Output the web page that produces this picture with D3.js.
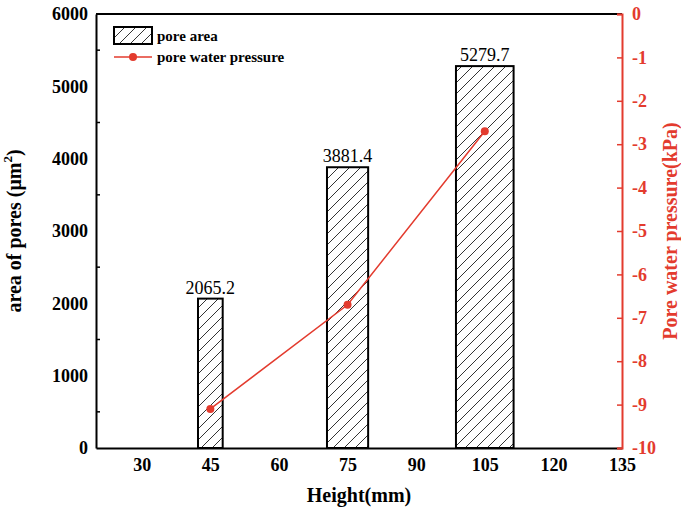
<!DOCTYPE html>
<html>
<head>
<meta charset="utf-8">
<script src="https://cdn.jsdelivr.net/npm/d3@7"></script>
<style>
  body { margin: 0; background: #fff; }
  svg { display: block; font-family: 'Liberation Serif', 'Times New Roman', serif; }
</style>
</head>
<body>
<div id="chart"></div>
<script>
// data
const heights = [45, 75, 105]
const poreArea = [2065.2, 3881.4, 5279.7]
const barWidths = [5.4, 9, 12.6] // bar widths in mm, as drawn
const porePressure = [-9.1, -6.7, -2.7]
const xTicks = [30, 45, 60, 75, 90, 105, 120, 135]
const yLeftTicks = [0, 1000, 2000, 3000, 4000, 5000, 6000]
const yRightTicks = [0, -1, -2, -3, -4, -5, -6, -7, -8, -9, -10]

const width = 681
const height = 510
const margin = { top: 14, right: 59, bottom: 62, left: 96 }
const red = '#e33b2e'
const serif = "'Liberation Serif', 'Times New Roman', serif"

const svg = d3.select('#chart').append('svg')
    .attr('width', width)
    .attr('height', height)

// scales
const x = d3.scaleLinear().domain([20, 135]).range([margin.left, width - margin.right])
const y = d3.scaleLinear().domain([0, 6000]).range([height - margin.bottom, margin.top])
const y2 = d3.scaleLinear().domain([-10, 0]).range([height - margin.bottom, margin.top])

// hatch pattern
const defs = svg.append('defs')
const pattern = defs.append('pattern')
    .attr('id', 'hatch')
    .attr('patternUnits', 'userSpaceOnUse')
    .attr('width', 11)
    .attr('height', 11)
pattern.append('rect').attr('width', 11).attr('height', 11).attr('fill', '#fff')
pattern.append('path')
    .attr('d', 'M0,11 L11,0 M-2,2 L2,-2 M9,13 L13,9')
    .attr('stroke', '#000')
    .attr('stroke-width', 0.8)

// bars
const bars = heights.map((h, i) => ({ h, v: poreArea[i], w: barWidths[i] }))
svg.append('g').selectAll('rect')
    .data(bars)
    .join('rect')
    .attr('x', (d) => x(d.h - d.w / 2))
    .attr('y', (d) => y(d.v))
    .attr('width', (d) => x(d.h + d.w / 2) - x(d.h - d.w / 2))
    .attr('height', (d) => y(0) - y(d.v))
    .attr('fill', 'url(#hatch)')
    .attr('stroke', '#000')
    .attr('stroke-width', 2)

// value labels
svg.append('g').selectAll('text')
    .data(bars)
    .join('text')
    .attr('x', (d) => x(d.h))
    .attr('y', (d) => y(d.v) - 5)
    .attr('text-anchor', 'middle')
    .style('font-size', '18px')
    .text((d) => d.v.toFixed(1))

// style tick labels the same on every axis
function styleTicks(g, color) {
    g.attr('font-family', serif)
    g.selectAll('text')
        .style('font-size', '18px')
        .style('font-weight', 'bold')
        .attr('fill', color)
}

// bottom axis (labels only)
const xAxis = d3.axisBottom(x).tickValues(xTicks).tickSize(0).tickPadding(10)
svg.append('g')
    .attr('transform', `translate(0,${y(0)})`)
    .call(xAxis)
    .call((g) => g.select('.domain').attr('stroke', '#000').attr('stroke-width', 2))
    .call((g) => styleTicks(g, '#000'))

// top border
svg.append('line')
    .attr('x1', margin.left).attr('x2', width - margin.right)
    .attr('y1', margin.top).attr('y2', margin.top)
    .attr('stroke', '#000').attr('stroke-width', 2)

// left axis
const yAxis = d3.axisLeft(y).tickValues(yLeftTicks).tickFormat(d3.format('d')).tickSize(0).tickPadding(8)
svg.append('g')
    .attr('transform', `translate(${margin.left},0)`)
    .call(yAxis)
    .call((g) => g.select('.domain').attr('stroke', '#000').attr('stroke-width', 2))
    .call((g) => styleTicks(g, '#000'))

// left minor ticks, inward
svg.append('g').selectAll('line')
    .data(d3.range(500, 6000, 1000))
    .join('line')
    .attr('x1', margin.left).attr('x2', margin.left + 4)
    .attr('y1', (d) => y(d)).attr('y2', (d) => y(d))
    .attr('stroke', '#000').attr('stroke-width', 1.5)

// right axis
const y2Axis = d3.axisRight(y2).tickValues(yRightTicks).tickFormat((d) => String(d))
    .tickSize(-5).tickPadding(10)
svg.append('g')
    .attr('transform', `translate(${width - margin.right},0)`)
    .call(y2Axis)
    .call((g) => g.select('.domain').attr('stroke', red).attr('stroke-width', 2))
    .call((g) => g.selectAll('.tick line').attr('stroke', red).attr('stroke-width', 1.5))
    .call((g) => styleTicks(g, red))

// pressure line
const pts = heights.map((h, i) => ({ h, p: porePressure[i] }))
const line = d3.line().x((d) => x(d.h)).y((d) => y2(d.p))
svg.append('path')
    .datum(pts)
    .attr('fill', 'none')
    .attr('stroke', red)
    .attr('stroke-width', 1.5)
    .attr('d', line)
svg.append('g').selectAll('circle')
    .data(pts)
    .join('circle')
    .attr('cx', (d) => x(d.h))
    .attr('cy', (d) => y2(d.p))
    .attr('r', 4)
    .attr('fill', red)

// axis titles
svg.append('text')
    .attr('x', x(77.5))
    .attr('y', 502)
    .attr('text-anchor', 'middle')
    .style('font-size', '20px')
    .style('font-weight', 'bold')
    .text('Height(mm)')

const leftTitle = svg.append('text')
    .attr('transform', `translate(21,${(margin.top + y(0)) / 2}) rotate(-90)`)
    .attr('text-anchor', 'middle')
    .style('font-size', '20px')
    .style('font-weight', 'bold')
leftTitle.append('tspan').text('area of pores (μm')
leftTitle.append('tspan').attr('dy', -9).style('font-size', '13px').text('2')
leftTitle.append('tspan').attr('dy', 9).text(')')

svg.append('text')
    .attr('transform', `translate(677,${(margin.top + y(0)) / 2}) rotate(-90)`)
    .attr('text-anchor', 'middle')
    .style('font-size', '20px')
    .style('font-weight', 'bold')
    .attr('fill', red)
    .text('Pore water pressure(kPa)')

// legend
const legend = svg.append('g').attr('transform', 'translate(114,27)')
legend.append('rect')
    .attr('width', 38).attr('height', 17)
    .attr('fill', 'url(#hatch)')
    .attr('stroke', '#000').attr('stroke-width', 2)
legend.append('text')
    .attr('x', 43).attr('y', 14)
    .style('font-size', '15px').style('font-weight', 'bold')
    .text('pore area')
legend.append('line')
    .attr('x1', 0).attr('x2', 38).attr('y1', 30).attr('y2', 30)
    .attr('stroke', red).attr('stroke-width', 1.5)
legend.append('circle')
    .attr('cx', 19).attr('cy', 30).attr('r', 4).attr('fill', red)
legend.append('text')
    .attr('x', 43).attr('y', 35)
    .style('font-size', '15px').style('font-weight', 'bold')
    .text('pore water pressure')
</script>
</body>
</html>
